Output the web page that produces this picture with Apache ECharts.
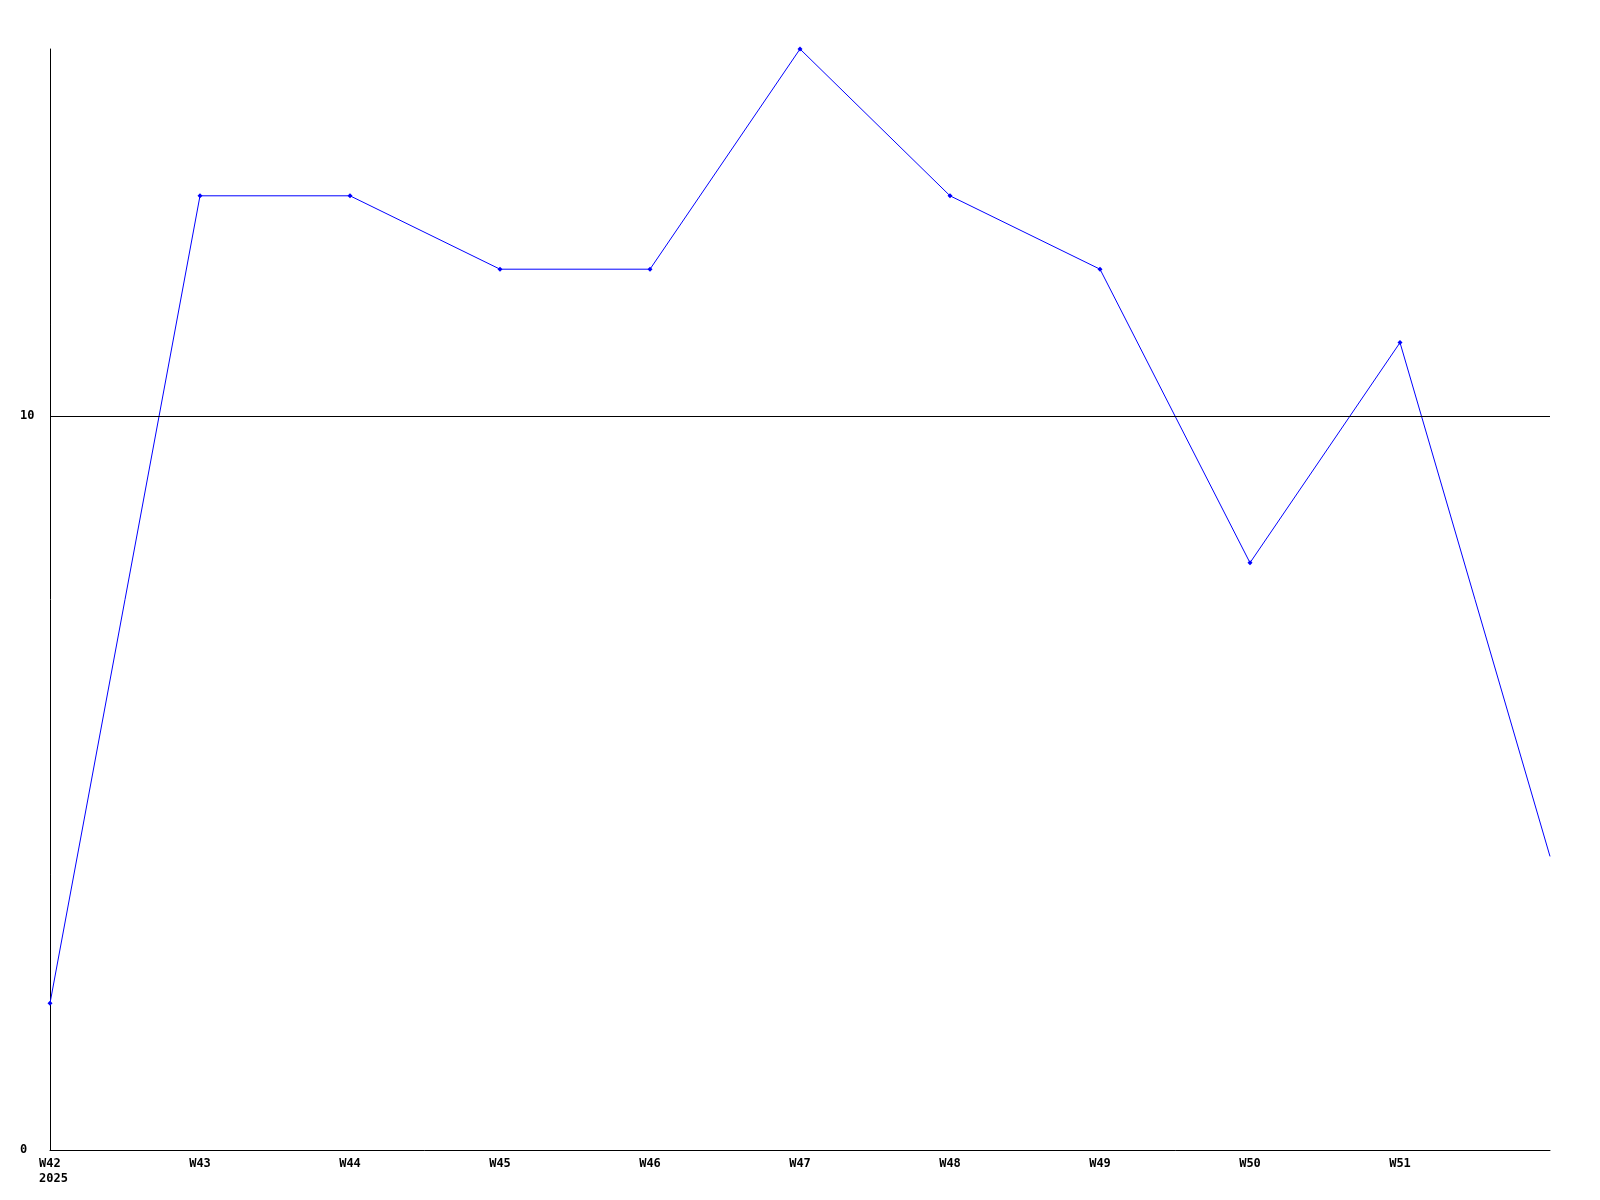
<!DOCTYPE html>
<html>
<head>
<meta charset="utf-8">
<script src="https://cdn.jsdelivr.net/npm/echarts@6/dist/echarts.min.js"></script>
<style>
  html, body { margin: 0; padding: 0; background: #fff; }
  #chart { width: 1600px; height: 1200px; }
</style>
</head>
<body>
<div id="chart"></div>
<script>
const weeks = ['W42', 'W43', 'W44', 'W45', 'W46', 'W47', 'W48', 'W49', 'W50', 'W51', ''];
const yearLabel = '2025';
const values = [2, 13, 13, 12, 12, 15, 13, 12, 8, 11, 4];
const refLine = 10;

const chart = echarts.init(document.getElementById('chart'));
const font = 'DejaVu Sans Mono';

chart.setOption({
  animation: false,
  backgroundColor: '#fff',
  grid: { left: 50, right: 50, top: 49, bottom: 50 },
  xAxis: {
    type: 'category',
    data: weeks,
    boundaryGap: false,
    axisLine: { lineStyle: { color: '#000', width: 1 } },
    axisTick: { show: false },
    axisLabel: {
      color: '#000',
      fontFamily: font,
      fontWeight: 'bold',
      fontSize: 12,
      lineHeight: 15,
      margin: 6,
      interval: 0,
      formatter: (v, i) => (i === 0 ? '{w|' + v + '}\n{w|' + yearLabel + '}' : v),
      rich: {
        w: {
          width: 22,
          align: 'left',
          color: '#000',
          fontFamily: font,
          fontWeight: 'bold',
          fontSize: 12,
          lineHeight: 15
        }
      }
    },
    splitLine: { show: false }
  },
  yAxis: {
    type: 'value',
    min: 0,
    max: 15,
    interval: 10,
    axisLine: { show: true, lineStyle: { color: '#000', width: 1 } },
    axisTick: { show: false },
    axisLabel: {
      color: '#000',
      fontFamily: font,
      fontWeight: 'bold',
      fontSize: 12,
      align: 'left',
      margin: 30,
      showMaxLabel: false
    },
    splitLine: { show: false }
  },
  series: [{
    type: 'line',
    data: values.map((v, i) => (i === values.length - 1 ? { value: v, symbol: 'none' } : v)),
    symbol: 'diamond',
    symbolSize: 5,
    showAllSymbol: true,
    lineStyle: { color: '#0000ff', width: 1 },
    itemStyle: { color: '#0000ff' },
    markLine: {
      silent: true,
      symbol: 'none',
      label: { show: false },
      lineStyle: { color: '#000', width: 1, type: 'solid' },
      data: [{ yAxis: refLine }]
    }
  }]
});
</script>
</body>
</html>
